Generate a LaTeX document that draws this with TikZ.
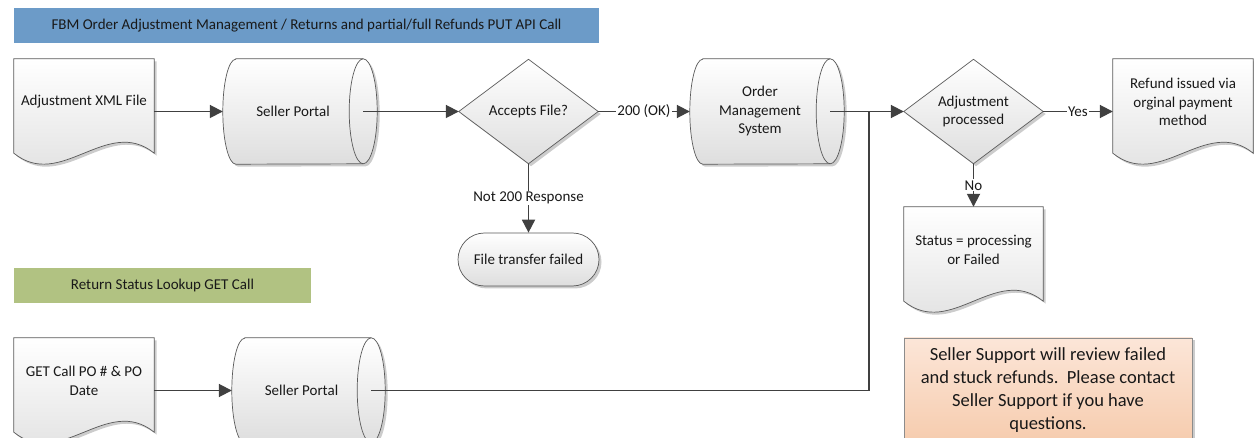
\documentclass[tikz,border=0pt]{standalone}
\usepackage{fontspec}
\setmainfont{Carlito}
\usetikzlibrary{arrows.meta,shadows,backgrounds,calc}
\definecolor{bannerblue}{HTML}{6C9BC8}
\definecolor{bannergreen}{HTML}{B1C282}
\definecolor{notetop}{HTML}{FCE6D8}
\definecolor{notebot}{HTML}{F6CCAE}
\definecolor{edgecol}{HTML}{595959}
\definecolor{wirecol}{HTML}{404040}
\begin{document}
\begin{tikzpicture}[x=1pt,y=-1pt,
  ft/.style={font=\fontsize{15}{18.5}\selectfont, text=black!90, align=center},
  box/.style={ft, inner sep=0pt, draw=none},
  shp/.style={draw=edgecol, line width=0.7pt, top color=white, bottom color=black!13,
    drop shadow={shadow xshift=2.5pt, shadow yshift=-2.5pt, opacity=0.2, fill=black}},
  wire/.style={draw=wirecol, line width=1.8pt},
  arr/.style={wire, -{Triangle[length=13pt,width=13pt]}},
  lbl/.style={ft, fill=white, inner xsep=1.5pt, inner ysep=1pt},
  banner/.style={ft, minimum height=35pt, inner sep=0pt},
  notebox/.style={font=\fontsize{18.5}{23}\selectfont, text=black!90, align=center,
    draw=black!45, line width=0.8pt, top color=notetop, bottom color=notebot,
    drop shadow={shadow xshift=2.5pt, shadow yshift=-2.5pt, opacity=0.2, fill=black},
    inner sep=0pt}
]
\useasboundingbox (0,0) rectangle (1254,438);

% banners
\node[banner, fill=bannerblue, minimum width=585pt] (ban1) at (306.5,25.5)
  {FBM Order Adjustment Management / Returns and partial/full Refunds PUT API Call};
\node[banner, fill=bannergreen, minimum width=297pt] (ban2) at (162.5,285.5)
  {Return Status Lookup GET Call};

% shape nodes (text)
\node[box, minimum width=140pt, minimum height=86pt] (doc1) at (84,102) {Adjustment XML File};
\node[box, minimum width=140pt, minimum height=105pt] (sp1) at (293,111.5) {Seller Portal};
\node[box, minimum width=139pt, minimum height=104pt] (acc) at (528.5,111.5) {Accepts File?};
\node[box, minimum width=140pt, minimum height=105pt] (oms) at (760,111.5) {Order\\Management\\System};
\node[box, minimum width=139pt, minimum height=104pt] (adj) at (973.5,111.5) {Adjustment\\processed};
\node[box, minimum width=140pt, minimum height=86pt] (ref) at (1183,102) {Refund issued via\\orginal payment\\method};
\node[box, minimum width=139pt, minimum height=86pt] (stat) at (973.5,250) {Status = processing\\or Failed};
\node[shp, ft, rounded corners=26.5pt, minimum width=141pt, minimum height=53pt, inner sep=0pt]
  (term) at (528.5,259.5) {File transfer failed};
\node[box, minimum width=140pt, minimum height=86pt] (doc2) at (84,381) {GET Call PO \# \& PO\\Date};
\node[box, minimum width=139pt, minimum height=105pt] (sp2) at (301.5,390.5) {Seller Portal};
\node[notebox, minimum width=288pt, minimum height=104pt] (note) at (1048,390)
  {Seller Support will review failed\\and stuck refunds.\ \ Please contact\\Seller Support if you have\\questions.};

% outlines
\begin{pgfonlayer}{background}
  \foreach \d in {doc1,ref,stat,doc2}{
    \path[shp] (\d.north west) -- (\d.north east) -- ([yshift=-8pt]\d.south east)
      .. controls +(-47,-38) and +(47,38) .. ([yshift=-8pt]\d.south west) -- cycle;
  }
  \foreach \c in {sp1,oms,sp2}{
    \path[shp] ([xshift=13pt]\c.north west) -- (\c.north east)
      arc[start angle=90,end angle=-90,x radius=14pt,y radius=52.5pt]
      -- ([xshift=13pt]\c.south west)
      arc[start angle=270,end angle=90,x radius=13pt,y radius=52.5pt] -- cycle;
    \draw[draw=edgecol, line width=0.7pt] (\c.north east)
      arc[start angle=90,end angle=270,x radius=14pt,y radius=52.5pt];
  }
  \foreach \k in {acc,adj}{
    \path[shp] (\k.north) -- (\k.east) -- (\k.south) -- (\k.west) -- cycle;
  }
\end{pgfonlayer}

% connectors
\coordinate (jn) at ([xshift=39pt]oms.east);
\draw[arr] (doc1.east |- sp1.west) -- (sp1.west);
\draw[arr] (sp1.east) -- (acc.west);
\draw[arr] (acc.east) -- node[lbl] {200 (OK)} (oms.west);
\draw[arr] (oms.east) -- (adj.west);
\draw[arr] (adj.east) -- node[lbl] {Yes} (ref.west |- adj.east);
\draw[arr] (adj.south) -- node[lbl] {No} (stat.north);
\draw[arr] (acc.south) -- node[lbl] {Not 200 Response} (term.north);
\draw[arr] (doc2.east |- sp2.west) -- (sp2.west);
\draw[wire] (sp2.east) -| (jn);
\end{tikzpicture}
\end{document}
